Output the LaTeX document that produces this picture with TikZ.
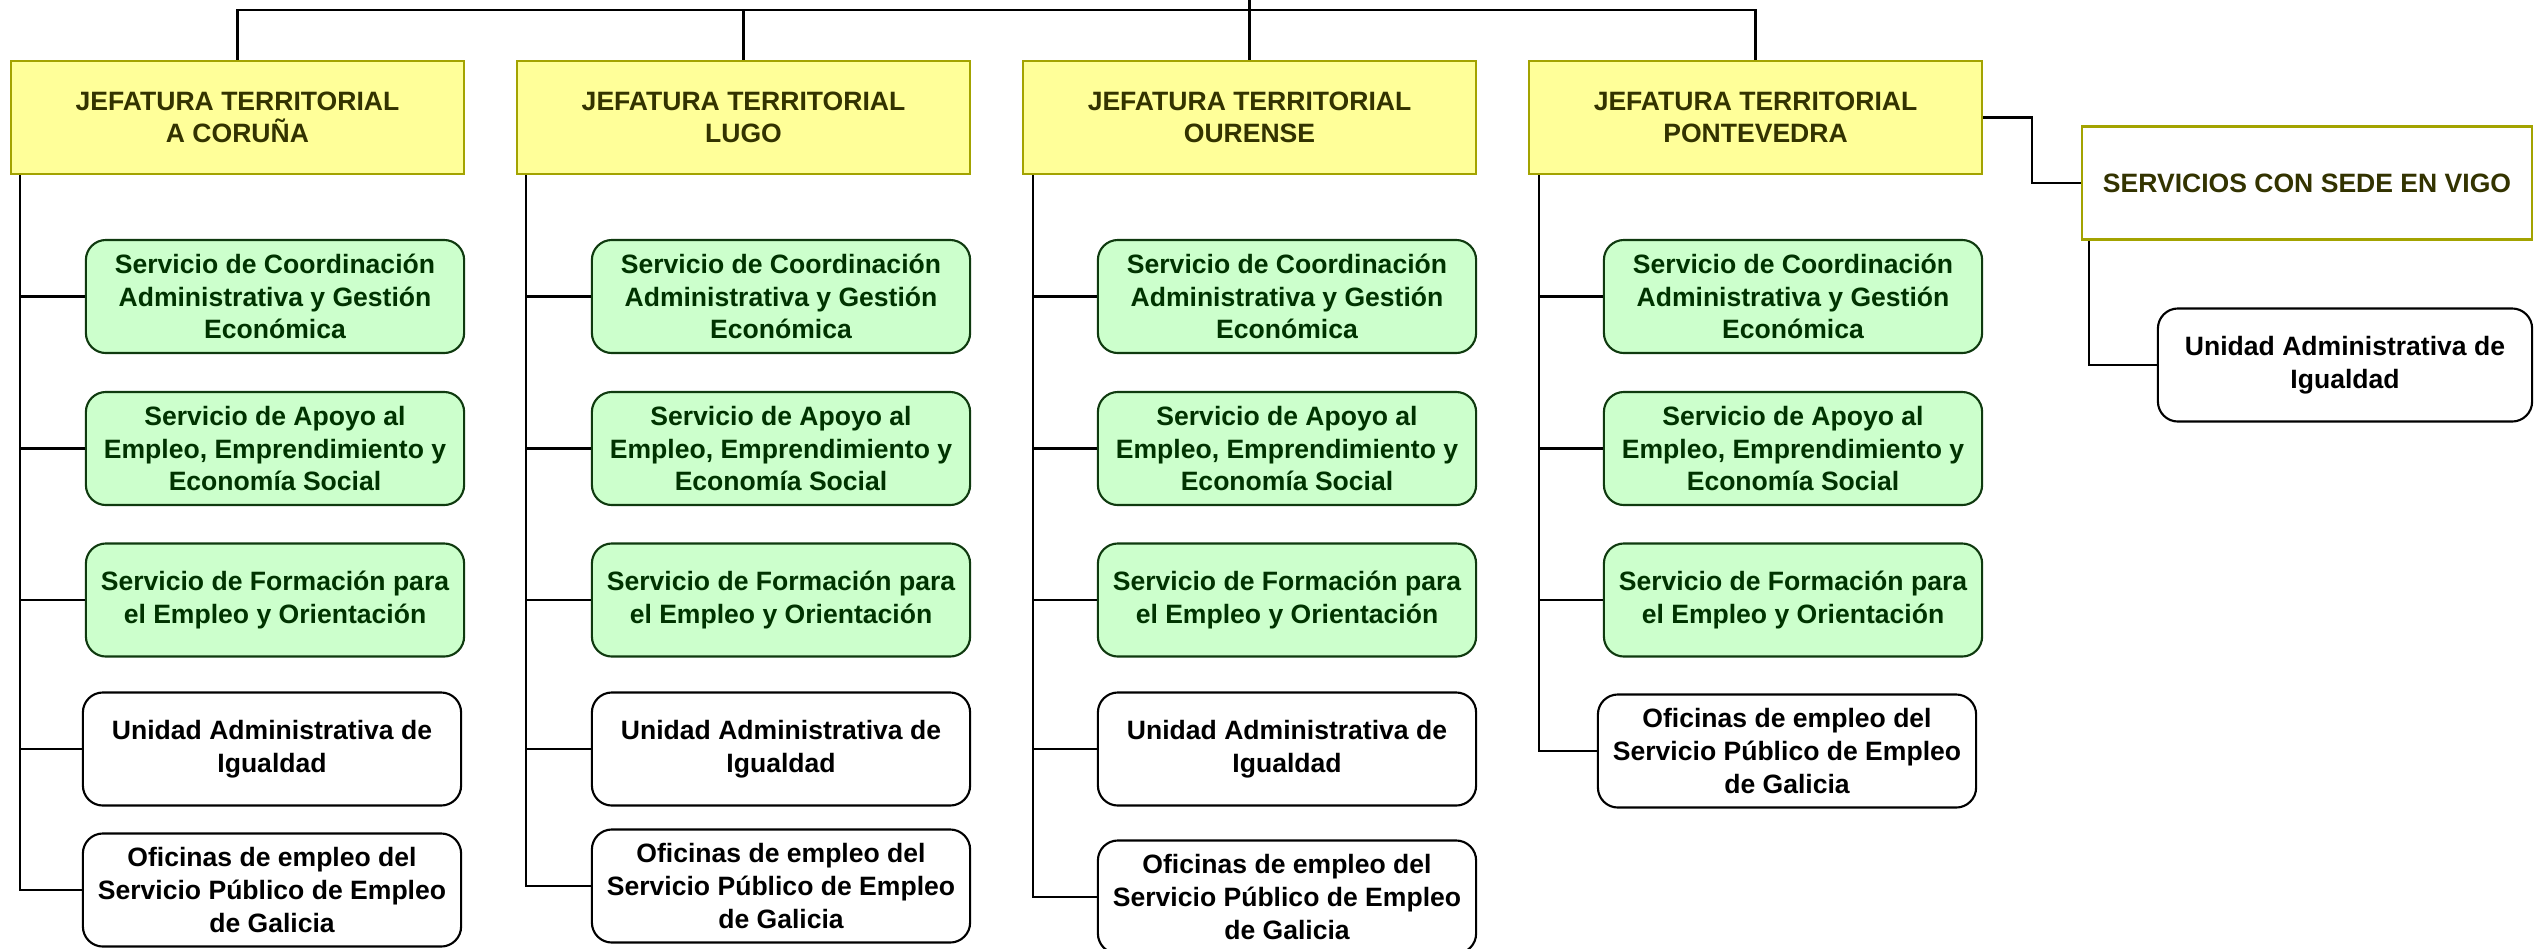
\documentclass[tikz,border=0pt]{standalone}
\usepackage{fontspec}
\setmainfont{Liberation Sans}

\definecolor{jeffill}{HTML}{FFFF99}
\definecolor{jefline}{HTML}{A3A300}
\definecolor{jeftext}{HTML}{333300}
\definecolor{servfill}{HTML}{CCFFCC}
\definecolor{servline}{HTML}{0F3A0F}
\definecolor{servtext}{HTML}{003300}

\tikzset{
  boxbase/.style={font=\fontsize{7.55}{9.3}\selectfont\bfseries, align=center, inner sep=0pt, line width=0.6pt},
  jefbox/.style={boxbase, rectangle, draw=jefline, fill=jeffill, text=jeftext, minimum width=4.53cm, minimum height=1.13cm},
  servbox/.style={boxbase, rounded corners=0.2cm, draw=servline, fill=servfill, text=servtext, minimum width=3.78cm, minimum height=1.13cm},
  unitbox/.style={boxbase, rounded corners=0.2cm, draw=black, fill=white, text=black, minimum width=3.78cm, minimum height=1.13cm},
  vigobox/.style={boxbase, rectangle, draw=jefline, fill=white, text=jeftext, minimum width=4.5cm, minimum height=1.13cm},
  link/.style={line width=0.7pt}
}

\begin{document}
\begin{tikzpicture}[x=0.01cm, y=-0.01cm]
  \useasboundingbox (0, 0) rectangle (2534, 948);

  % Jefaturas
  \node[jefbox] (jt_co) at (237.5 + 0 * 506, 117.5) {JEFATURA TERRITORIAL\\A CORUÑA};
  \node[jefbox] (jt_lu) at (237.5 + 1 * 506, 117.5) {JEFATURA TERRITORIAL\\LUGO};
  \node[jefbox] (jt_ou) at (237.5 + 2 * 506, 117.5) {JEFATURA TERRITORIAL\\OURENSE};
  \node[jefbox] (jt_po) at (237.5 + 3 * 506, 117.5) {JEFATURA TERRITORIAL\\PONTEVEDRA};

  \coordinate (root) at (1249.5, 0);
  \coordinate (bus) at (1249.5, 10);
  \draw[link] (root) -- (jt_ou.north);
  \draw[link] (jt_co.north) |- (bus) -| (jt_po.north);
  \draw[link] (jt_lu.north) -- (jt_lu.north |- bus);

  % A Coruna
  \node[servbox] (co_1) at (275 + 0 * 506, 296.5) {Servicio de Coordinación\\Administrativa y Gestión\\Económica};
  \node[servbox] (co_2) at (275 + 0 * 506, 448.5) {Servicio de Apoyo al\\Empleo, Emprendimiento y\\Economía Social};
  \node[servbox] (co_3) at (275 + 0 * 506, 600) {Servicio de Formación para\\el Empleo y Orientación};
  \node[unitbox] (co_4) at (272 + 0 * 506, 749) {Unidad Administrativa de\\Igualdad};
  \node[unitbox] (co_5) at (272 + 0 * 506, 890) {Oficinas de empleo del\\Servicio Público de Empleo\\de Galicia};

  \coordinate (co_bar) at ([xshift=0.1cm]jt_co.south west);
  \draw[link] (co_bar) |- (co_5.west);
  \draw[link] (co_bar |- co_1.west) -- (co_1.west);
  \draw[link] (co_bar |- co_2.west) -- (co_2.west);
  \draw[link] (co_bar |- co_3.west) -- (co_3.west);
  \draw[link] (co_bar |- co_4.west) -- (co_4.west);

  % Lugo
  \node[servbox] (lu_1) at (275 + 1 * 506, 296.5) {Servicio de Coordinación\\Administrativa y Gestión\\Económica};
  \node[servbox] (lu_2) at (275 + 1 * 506, 448.5) {Servicio de Apoyo al\\Empleo, Emprendimiento y\\Economía Social};
  \node[servbox] (lu_3) at (275 + 1 * 506, 600) {Servicio de Formación para\\el Empleo y Orientación};
  \node[unitbox] (lu_4) at (275 + 1 * 506, 749) {Unidad Administrativa de\\Igualdad};
  \node[unitbox] (lu_5) at (275 + 1 * 506, 886) {Oficinas de empleo del\\Servicio Público de Empleo\\de Galicia};

  \coordinate (lu_bar) at ([xshift=0.1cm]jt_lu.south west);
  \draw[link] (lu_bar) |- (lu_5.west);
  \draw[link] (lu_bar |- lu_1.west) -- (lu_1.west);
  \draw[link] (lu_bar |- lu_2.west) -- (lu_2.west);
  \draw[link] (lu_bar |- lu_3.west) -- (lu_3.west);
  \draw[link] (lu_bar |- lu_4.west) -- (lu_4.west);

  % Ourense
  \node[servbox] (ou_1) at (275 + 2 * 506, 296.5) {Servicio de Coordinación\\Administrativa y Gestión\\Económica};
  \node[servbox] (ou_2) at (275 + 2 * 506, 448.5) {Servicio de Apoyo al\\Empleo, Emprendimiento y\\Economía Social};
  \node[servbox] (ou_3) at (275 + 2 * 506, 600) {Servicio de Formación para\\el Empleo y Orientación};
  \node[unitbox] (ou_4) at (275 + 2 * 506, 749) {Unidad Administrativa de\\Igualdad};
  \node[unitbox] (ou_5) at (275 + 2 * 506, 897) {Oficinas de empleo del\\Servicio Público de Empleo\\de Galicia};

  \coordinate (ou_bar) at ([xshift=0.11cm]jt_ou.south west);
  \draw[link] (ou_bar) |- (ou_5.west);
  \draw[link] (ou_bar |- ou_1.west) -- (ou_1.west);
  \draw[link] (ou_bar |- ou_2.west) -- (ou_2.west);
  \draw[link] (ou_bar |- ou_3.west) -- (ou_3.west);
  \draw[link] (ou_bar |- ou_4.west) -- (ou_4.west);

  % Pontevedra
  \node[servbox] (po_1) at (275 + 3 * 506, 296.5) {Servicio de Coordinación\\Administrativa y Gestión\\Económica};
  \node[servbox] (po_2) at (275 + 3 * 506, 448.5) {Servicio de Apoyo al\\Empleo, Emprendimiento y\\Economía Social};
  \node[servbox] (po_3) at (275 + 3 * 506, 600) {Servicio de Formación para\\el Empleo y Orientación};
  \node[unitbox] (po_4) at (1787, 751) {Oficinas de empleo del\\Servicio Público de Empleo\\de Galicia};

  \coordinate (po_bar) at ([xshift=0.11cm]jt_po.south west);
  \draw[link] (po_bar) |- (po_4.west);
  \draw[link] (po_bar |- po_1.west) -- (po_1.west);
  \draw[link] (po_bar |- po_2.west) -- (po_2.west);
  \draw[link] (po_bar |- po_3.west) -- (po_3.west);

  % Vigo
  \node[vigobox] (vigo) at (2307, 183) {SERVICIOS CON SEDE EN VIGO};
  \node[unitbox, minimum width=3.74cm] (vigo_1) at (2345, 365) {Unidad Administrativa de\\Igualdad};

  \coordinate (vigo_in) at (2032, 117.5);
  \draw[link] (jt_po.east) -- (vigo_in) |- (vigo.west);
  \coordinate (vigo_bar) at ([xshift=0.08cm]vigo.south west);
  \draw[link] (vigo_bar) |- (vigo_1.west);
\end{tikzpicture}
\end{document}
